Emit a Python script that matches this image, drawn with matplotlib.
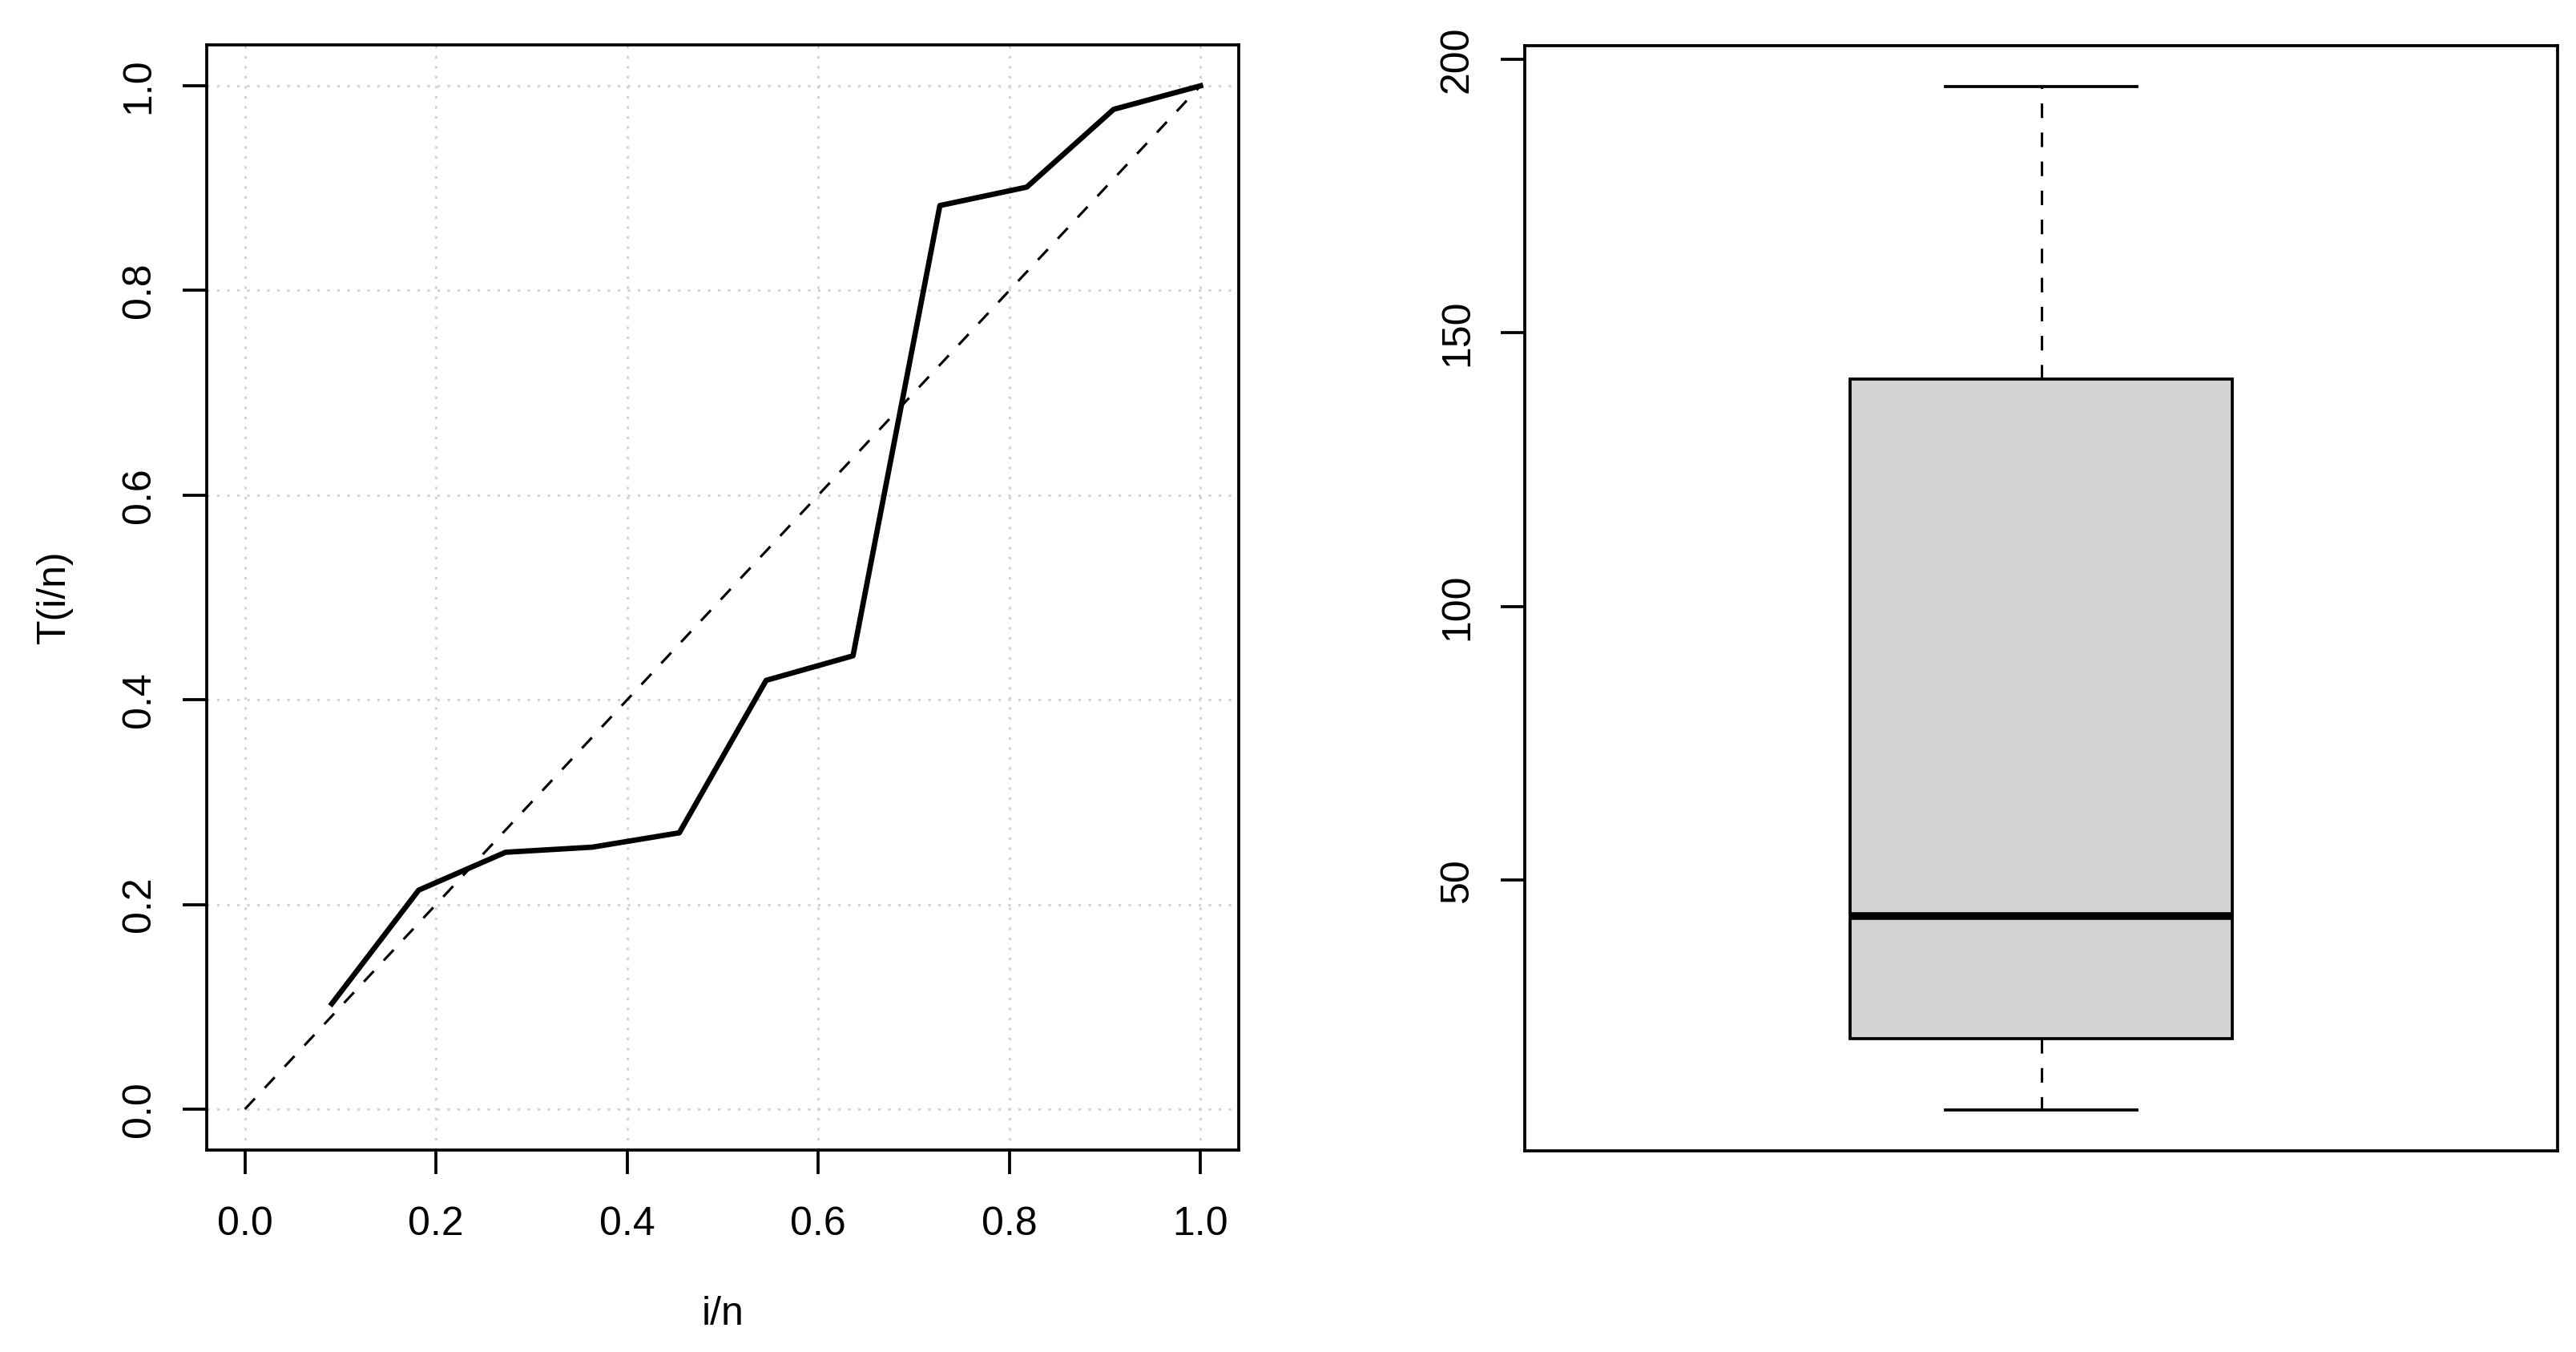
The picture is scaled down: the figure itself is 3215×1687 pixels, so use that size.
import numpy as np
import matplotlib
matplotlib.use("Agg")
import matplotlib.pyplot as plt

plt.rcParams['font.family'] = ['Liberation Sans', 'DejaVu Sans']
plt.rcParams['font.size'] = 12

# left panel: T(i/n) against i/n, n = 11
i_over_n = [1/11, 2/11, 3/11, 4/11, 5/11, 6/11, 7/11, 8/11, 9/11, 10/11, 1.0]
t_vals = [0.103, 0.214, 0.251, 0.256, 0.270, 0.419, 0.443, 0.883, 0.901, 0.977, 1.0]
ticks01 = [0.0, 0.2, 0.4, 0.6, 0.8, 1.0]
tick_labels01 = ["0.0", "0.2", "0.4", "0.6", "0.8", "1.0"]

# right panel: boxplot summary
box_whislo = 8
box_q1 = 21
box_med = 43.5
box_q3 = 141.5
box_whishi = 195
box_ticks = [50, 100, 150, 200]

W, H = 3215, 1687
dpi = 300
fig = plt.figure(figsize=(W / dpi, H / dpi), dpi=dpi)

lw1 = 0.75  # R lwd=1
dash = (0, (5.8, 5.8))
dot = (0, (1, 3))

ax1 = fig.add_axes([258 / W, 1 - 1435 / H, (1546 - 258) / W, (1435 - 56) / H])
ax2 = fig.add_axes([1903 / W, 1 - 1436 / H, (3192 - 1903) / W, (1436 - 57) / H])

# ---- left
for v in ticks01:
    ax1.axhline(v, color='#D3D3D3', lw=lw1, ls=dot, zorder=1)
    ax1.axvline(v, color='#D3D3D3', lw=lw1, ls=dot, zorder=1)
ax1.plot([0, 1], [0, 1], color='black', lw=lw1, ls=dash, zorder=2)
ax1.plot(i_over_n, t_vals, color='black', lw=1.6, zorder=3)
ax1.set_xlim(-0.04, 1.04)
ax1.set_ylim(-0.04, 1.04)
ax1.set_xticks(ticks01)
ax1.set_xticklabels(tick_labels01)
ax1.set_yticks(ticks01)
ax1.set_yticklabels(tick_labels01, rotation=90, va='center')

# axis titles placed like R's mgp line 3
fig.text((258 + 1546) / 2 / W, 1 - 1640 / H, "i/n", ha='center', va='center')
fig.text(68 / W, 1 - 745 / H, "T(i/n)", ha='center', va='center', rotation=90)

# ---- right
stats = [dict(med=box_med, q1=box_q1, q3=box_q3, whislo=box_whislo,
              whishi=box_whishi, fliers=[])]
ax2.bxp(stats, positions=[1], widths=[0.4], capwidths=[0.2], patch_artist=True,
        boxprops=dict(facecolor='#D3D3D3', edgecolor='black', lw=lw1 * 1.2),
        medianprops=dict(color='black', lw=2.3, solid_capstyle='butt'),
        whiskerprops=dict(color='black', lw=lw1, ls=dash),
        capprops=dict(color='black', lw=lw1 * 1.2))
ax2.set_xlim(0.46, 1.54)
ax2.set_ylim(0.52, 202.5)
ax2.set_xticks([])
ax2.set_yticks(box_ticks)
ax2.set_yticklabels([str(v) for v in box_ticks], rotation=90, va='center')

for ax in (ax1, ax2):
    for s in ax.spines.values():
        s.set_linewidth(0.9)
    ax.tick_params(length=7.2, width=lw1 * 1.2, labelsize=12)
    ax.tick_params(axis='x', pad=9.5)
    ax.tick_params(axis='y', pad=7.5)

fig.savefig("out.png", dpi=dpi)
